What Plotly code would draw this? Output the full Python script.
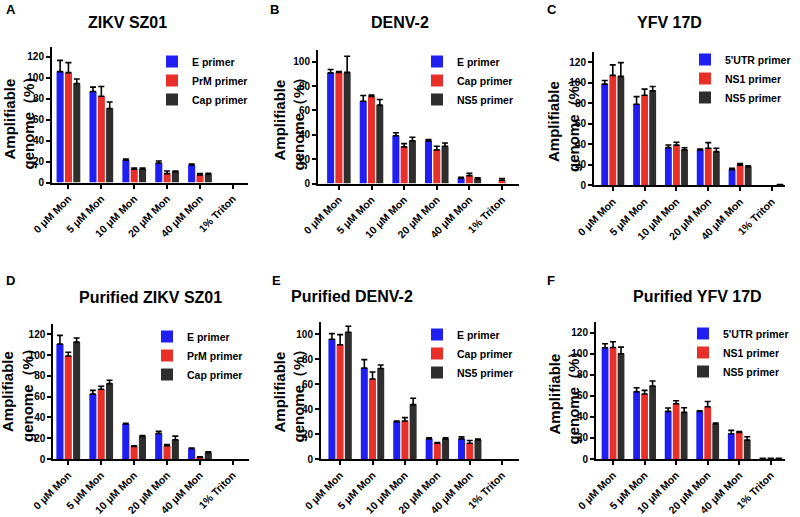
import plotly.graph_objects as go

W, H = 800, 517
FONT = "Liberation Sans, Arial, sans-serif"

categories = ["0 μM Mon", "5 μM Mon", "10 μM Mon", "20 μM Mon", "40 μM Mon", "1% Triton"]

# ---- Panel A : ZIKV SZ01
A_E = [106.0, 87.0, 21.2, 18.7, 16.8, 0]
A_E_err = [10.7, 4.2, 1.3, 1.9, 0.9, 0]
A_PrM = [105.0, 82.5, 12.6, 8.5, 7.3, 0]
A_PrM_err = [9.6, 9.2, 1.2, 2.5, 1.2, 0]
A_Cap = [94.7, 70.8, 12.8, 10.4, 7.9, 0]
A_Cap_err = [4.3, 6.2, 1.0, 0.6, 1.0, 0]

# ---- Panel B : DENV-2
B_E = [90.8, 67.5, 39.2, 35.0, 4.3, 0]
B_E_err = [2.8, 4.7, 2.4, 1.0, 0.8, 0]
B_Cap = [91.2, 71.4, 30.1, 27.6, 6.5, 2.7]
B_Cap_err = [0.7, 1.2, 2.6, 3.0, 1.9, 1.4]
B_NS5 = [91.2, 64.3, 35.1, 30.6, 3.8, 0]
B_NS5_err = [13.3, 4.6, 2.9, 2.7, 0.8, 0]

# ---- Panel C : YFV 17D
C_UTR = [98.7, 79.0, 36.7, 34.5, 15.3, 0]
C_UTR_err = [3.5, 7.5, 2.6, 0.9, 1.3, 0]
C_NS1 = [107.2, 87.8, 39.2, 36.1, 19.5, 0]
C_NS1_err = [10.2, 6.0, 2.8, 5.5, 1.6, 0]
C_NS5 = [106.2, 92.2, 34.5, 32.8, 18.2, 0.8]
C_NS5_err = [13.4, 4.1, 2.1, 3.3, 0.7, 0]

# ---- Panel D : Purified ZIKV SZ01
D_E = [110.8, 62.5, 33.7, 24.5, 10.2, 0]
D_E_err = [8.2, 3.6, 0.6, 2.1, 0.3, 0]
D_PrM = [99.2, 67.2, 12.2, 12.8, 1.6, 0]
D_PrM_err = [3.6, 2.8, 0.6, 1.2, 0.6, 0]
D_Cap = [112.5, 72.6, 21.8, 18.6, 6.1, 0]
D_Cap_err = [4.0, 3.2, 0.7, 3.4, 0.9, 0]

# ---- Panel E : Purified DENV-2
E_E = [96.0, 73.0, 30.0, 16.1, 16.1, 0]
E_E_err = [4.5, 6.7, 0.5, 0.8, 1.6, 0]
E_Cap = [91.6, 64.2, 30.5, 12.6, 12.6, 0]
E_Cap_err = [8.1, 5.6, 2.7, 0.6, 2.2, 0]
E_NS5 = [101.6, 72.6, 43.6, 16.1, 15.3, 0]
E_NS5_err = [4.8, 2.8, 5.1, 0.8, 0.6, 0]

# ---- Panel F : Purified YFV 17D
F_UTR = [105.7, 63.9, 45.3, 45.2, 24.0, 0.6]
F_UTR_err = [3.8, 3.8, 3.1, 0.6, 3.2, 0]
F_NS1 = [106.0, 61.8, 52.5, 49.6, 25.3, 0.6]
F_NS1_err = [5.4, 3.4, 2.9, 5.1, 0.9, 0]
F_NS5 = [100.0, 69.4, 44.3, 33.5, 18.0, 0.6]
F_NS5_err = [6.3, 4.7, 4.4, 0.6, 3.2, 0]

titles = ["ZIKV SZ01", "DENV-2", "YFV 17D", "Purified ZIKV SZ01", "Purified DENV-2", "Purified YFV 17D"]
letters = ["A", "B", "C", "D", "E", "F"]
series_names = [
    ["E primer", "PrM primer", "Cap primer"],
    ["E primer", "Cap primer", "NS5 primer"],
    ["5'UTR primer", "NS1 primer", "NS5 primer"],
    ["E primer", "PrM primer", "Cap primer"],
    ["E primer", "Cap primer", "NS5 primer"],
    ["5'UTR primer", "NS1 primer", "NS5 primer"],
]
series_vals = [
    [(A_E, A_E_err), (A_PrM, A_PrM_err), (A_Cap, A_Cap_err)],
    [(B_E, B_E_err), (B_Cap, B_Cap_err), (B_NS5, B_NS5_err)],
    [(C_UTR, C_UTR_err), (C_NS1, C_NS1_err), (C_NS5, C_NS5_err)],
    [(D_E, D_E_err), (D_PrM, D_PrM_err), (D_Cap, D_Cap_err)],
    [(E_E, E_E_err), (E_Cap, E_Cap_err), (E_NS5, E_NS5_err)],
    [(F_UTR, F_UTR_err), (F_NS1, F_NS1_err), (F_NS5, F_NS5_err)],
]
y_max = [130, 110, 130, 130, 110, 130]
y_top_tick = [120, 100, 120, 120, 100, 120]

colors = ["#1f1ff2", "#e8302b", "#2e2e2e"]

# ---- geometry in pixels (legend = left edge of legend text, first-entry centre)
geom = [
    dict(x0=52, x1=248, y0=182.5, y1=46.5, xr=[-0.5, 5.46], title=(127, 23), letter=(4, 10),
         ytitle=(18.5, 119), legend=(194, 61)),
    dict(x0=318, x1=519, y0=183.5, y1=49.5, xr=[-0.64, 5.52], title=(399.5, 23), letter=(268, 10),
         ytitle=(289.5, 120), legend=(459, 61)),
    dict(x0=594, x1=785, y0=185.3, y1=52.0, xr=[-0.59, 5.41], title=(669, 23), letter=(545, 10),
         ytitle=(564, 122), legend=(727, 59)),
    dict(x0=53.3, x1=249, y0=459, y1=324, xr=[-0.455, 5.49], title=(150, 297.5), letter=(4, 280),
         ytitle=(17, 392), legend=(189, 336)),
    dict(x0=321, x1=519, y0=459, y1=321.8, xr=[-0.59, 5.52], title=(352, 296.7), letter=(270, 280),
         ytitle=(288.5, 392), legend=(459, 334)),
    dict(x0=596, x1=785, y0=459, y1=322.2, xr=[-0.54, 5.45], title=(697.5, 296.7), letter=(545, 280),
         ytitle=(563.5, 394), legend=(725, 333)),
]

def px(x):
    return x / W

def py(y):
    return 1 - y / H

fig = go.Figure()
layout = dict(
    width=W, height=H, margin=dict(l=0, r=0, t=0, b=0, autoexpand=False),
    paper_bgcolor="white", plot_bgcolor="white",
    barmode="group", bargap=0.24, bargroupgap=0.15,
    font=dict(family=FONT, color="black"),
    annotations=[],
)

for i in range(6):
    g = geom[i]
    n = "" if i == 0 else str(i + 1)
    xa, ya = "x" + n, "y" + n
    leg = "legend" + n
    for j in range(3):
        vals, errs = series_vals[i][j]
        fig.add_trace(go.Bar(
            x=categories, y=[v if v else None for v in vals], name=series_names[i][j],
            xaxis=xa, yaxis=ya, legend=leg, legendgroup=f"g{i}{j}",
            marker=dict(color=colors[j], line=dict(width=0)),
            error_y=dict(type="data", array=[e if e else None for e in errs],
                         arrayminus=[0] * len(errs), symmetric=False,
                         color="black", thickness=1.6, width=3),
        ))
    layout["xaxis" + n] = dict(
        domain=[px(g["x0"]), px(g["x1"])], anchor=ya, range=g["xr"],
        showline=True, linewidth=2, linecolor="black", showgrid=False, zeroline=False,
        ticks="outside", ticklen=4, tickwidth=1.5, tickcolor="black", tickangle=-45,
        tickfont=dict(family=FONT, size=10.5, weight="bold", color="black"),
    )
    layout["yaxis" + n] = dict(
        domain=[py(g["y0"]), py(g["y1"])], anchor=xa, range=[0, y_max[i]],
        tickvals=list(range(0, y_top_tick[i] + 1, 20)),
        showline=True, linewidth=2, linecolor="black", showgrid=False, zeroline=False,
        ticks="outside", ticklen=4, tickwidth=1.5, tickcolor="black",
        tickfont=dict(family=FONT, size=10, weight="bold", color="black"),
    )
    layout[leg] = dict(
        x=px(g["legend"][0] - 42), y=py(g["legend"][1] - 14), xanchor="left", yanchor="top",
        xref="paper", yref="paper", bgcolor="rgba(0,0,0,0)", borderwidth=0,
        font=dict(family=FONT, size=10.5, weight="bold", color="black"),
        tracegroupgap=0, traceorder="normal",
    )
    layout["annotations"] += [
        dict(text=f"<b>{titles[i]}</b>", x=px(g["title"][0]), y=py(g["title"][1]),
             xref="paper", yref="paper", showarrow=False, xanchor="center", yanchor="middle",
             font=dict(family=FONT, size=16, color="black")),
        dict(text=f"<b>{letters[i]}</b>", x=px(g["letter"][0]), y=py(g["letter"][1]),
             xref="paper", yref="paper", showarrow=False, xanchor="left", yanchor="middle",
             font=dict(family=FONT, size=13, color="black")),
        dict(text="<b>Amplifiable</b><br><b>genome（%）</b>", x=px(g["ytitle"][0]), y=py(g["ytitle"][1]),
             xref="paper", yref="paper", showarrow=False, xanchor="center", yanchor="middle",
             textangle=-90, font=dict(family=FONT, size=15, color="black")),
    ]

fig.update_layout(**layout)
# remove the browser's default 8px body margin so the figure fills the window exactly
fig.write_html("out.html", config={"displayModeBar": False},
               post_script="document.body.style.margin='0';document.body.style.overflow='hidden';")
